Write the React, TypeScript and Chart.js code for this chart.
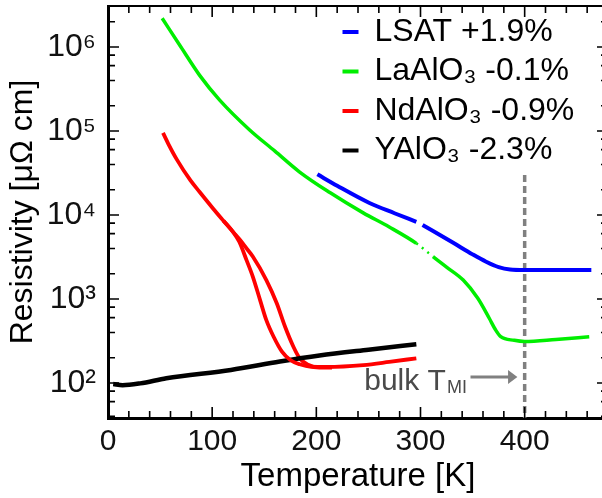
import React, { useEffect, useRef } from 'react';
import { Chart, registerables } from 'chart.js';

Chart.register(...registerables);

// ---- data (Temperature [K], Resistivity [µΩ cm]) ----
const lsatT = [201, 220, 251, 275, 296, 299, 302, 331, 350, 363, 375, 386, 400, 464];
const lsatR = [3.05e4, 2.23e4, 1.39e4, 1.05e4, 8.3e3, null, 7.6e3, 4.7e3, 3.4e3, 2.78e3, 2.4e3, 2.25e3, 2.22e3, 2.22e3];

const laoT = [52, 70, 88, 107, 136, 160, 184, 213, 245, 270, 296, 304, 312, 325, 341, 355, 366, 372, 377, 390, 400, 430, 462];
const laoR = [2.2e6, 1.0e6, 4.6e5, 2.35e5, 1.03e5, 5.8e4, 3.25e4, 1.85e4, 1.06e4, 7.2e3, 4.6e3, 3.85e3, 3.2e3, 2.4e3, 1.68e3, 1.02e3, 590, 430, 356, 322, 312, 330, 355];

const ndoCoolT = [52.8, 58, 66, 79, 88, 101, 111, 120, 126, 133, 139, 146, 152, 159, 167, 175, 184, 195, 210, 245, 270, 296];
const ndoCoolR = [9.5e4, 7.0e4, 4.6e4, 2.6e4, 1.88e4, 1.19e4, 8.5e3, 6.3e3, 4.8e3, 2.9e3, 1.85e3, 970, 560, 355, 236, 188, 167, 156, 155, 163, 178, 197];

const ndoWarmT = [111, 120, 127, 133, 139, 152, 162, 170, 178, 184, 192, 203, 215];
const ndoWarmR = [8.5e3, 6.3e3, 5.0e3, 4.0e3, 3.2e3, 1.68e3, 890, 467, 270, 197, 165, 152, 153];

const yaoT = [5, 14, 31, 56, 118, 165, 203, 250, 296];
const yaoR = [97, 94, 99, 114, 143, 180, 212, 249, 289];

const tmiT = [400, 400];
const tmiR = [3.0e4, 38.3];

const xTicks = [0, 100, 200, 300, 400];
const yTicks = [1e2, 1e3, 1e4, 1e5, 1e6];
const xMinorStep = 20;
const yMinorMultipliers = [2, 4, 6, 8];

const labels = ['LSAT +1.9%', 'LaAlO\u2083 -0.1%', 'NdAlO\u2083 -0.9%', 'YAlO\u2083 -2.3%'];

const FONT = "'Liberation Sans', Arial, Helvetica, sans-serif";
const BLUE = '#0000ff';
const GREEN = '#00ee00';
const RED = '#ff0000';
const BLACK = '#000000';
const GREY = '#808080';

const SUP: Record<string, string> = {
  '0': '\u2070', '1': '\u00b9', '2': '\u00b2', '3': '\u00b3', '4': '\u2074',
  '5': '\u2075', '6': '\u2076', '7': '\u2077', '8': '\u2078', '9': '\u2079',
};

const toXY = (t: number[], r: (number | null)[]) => t.map((x, i) => ({ x, y: r[i] }));

const innerTicks = {
  id: 'innerTicks',
  afterDatasetsDraw(chart: any) {
    const { ctx, chartArea: a, scales } = chart;
    const x = scales.x;
    const y = scales.y;
    ctx.save();
    ctx.strokeStyle = '#000';
    ctx.lineWidth = 1.6;
    ctx.beginPath();
    for (let t = x.min; t <= x.max + 1e-6; t += xMinorStep) {
      const px = x.getPixelForValue(t);
      const len = t % 100 === 0 ? 11 : 7;
      ctx.moveTo(px, a.bottom);
      ctx.lineTo(px, a.bottom - len);
      ctx.moveTo(px, a.top);
      ctx.lineTo(px, a.top + len);
    }
    for (let d = 0; d <= 7; d++) {
      const base = Math.pow(10, d);
      const vals = [{ v: base, len: 11 }].concat(yMinorMultipliers.map((k) => ({ v: k * base, len: 7 })));
      for (const { v, len } of vals) {
        if (v < y.min || v > y.max) continue;
        const py = y.getPixelForValue(v);
        ctx.moveTo(a.left, py);
        ctx.lineTo(a.left + len, py);
        ctx.moveTo(a.right, py);
        ctx.lineTo(a.right - len, py);
      }
    }
    ctx.stroke();
    ctx.lineWidth = 2.2;
    ctx.beginPath();
    ctx.moveTo(a.left, a.top);
    ctx.lineTo(a.right, a.top);
    ctx.lineTo(a.right, a.bottom);
    ctx.stroke();
    ctx.restore();
  },
  afterDraw(chart: any) {
    const { ctx, scales } = chart;
    const x = scales.x;
    const y = scales.y;
    ctx.save();
    // "bulk T_MI" label
    const tx = x.getPixelForValue(246);
    const ty = y.getPixelForValue(82.6);
    ctx.fillStyle = '#4a4a4a';
    ctx.textBaseline = 'alphabetic';
    ctx.textAlign = 'left';
    ctx.font = `30px ${FONT}`;
    ctx.fillText('bulk T', tx, ty);
    const w = ctx.measureText('bulk T').width;
    ctx.font = `18px ${FONT}`;
    ctx.fillText('MI', tx + w + 1, ty + 3.5);
    // arrow
    const ay = y.getPixelForValue(118);
    const ax0 = x.getPixelForValue(348);
    const ax1 = x.getPixelForValue(385);
    const tip = x.getPixelForValue(393);
    ctx.strokeStyle = GREY;
    ctx.fillStyle = GREY;
    ctx.lineWidth = 3;
    ctx.beginPath();
    ctx.moveTo(ax0, ay);
    ctx.lineTo(ax1, ay);
    ctx.stroke();
    ctx.beginPath();
    ctx.moveTo(tip, ay);
    ctx.lineTo(ax1 - 1, ay - 7);
    ctx.lineTo(ax1 - 1, ay + 7);
    ctx.closePath();
    ctx.fill();
    ctx.restore();
  },
};

const moveLegend = {
  id: 'moveLegend',
  beforeDraw(chart: any) {
    const lg = chart.legend;
    if (!lg) return;
    const a = chart.chartArea;
    const dx = a.left + 227 - lg.left;
    const dy = 8.5 - lg.top;
    lg.left += dx;
    lg.right += dx;
    lg.top += dy;
    lg.bottom += dy;
  },
};

const noPadX = (s: any) => {
  s.height = 80;
  s.paddingLeft = 0;
  s.paddingRight = 0;
  s.paddingTop = 0;
  s.paddingBottom = 0;
};
const noPadY = (s: any) => {
  s.width = 108;
  s.paddingLeft = 0;
  s.paddingRight = 0;
  s.paddingTop = 0;
  s.paddingBottom = 0;
};

export default function App() {
  const ref = useRef<HTMLCanvasElement>(null);

  useEffect(() => {
    const line = { pointRadius: 0, pointHoverRadius: 0, cubicInterpolationMode: 'monotone' as const, fill: false };
    const chart = new Chart(ref.current as HTMLCanvasElement, {
      type: 'line',
      data: {
        datasets: [
          { ...line, label: labels[0], data: toXY(lsatT, lsatR), borderColor: BLUE, backgroundColor: BLUE, borderWidth: 4, spanGaps: false },
          {
            ...line, label: labels[1], data: toXY(laoT, laoR), borderColor: GREEN, backgroundColor: GREEN, borderWidth: 3.5,
            segment: {
              borderDash: (c: any) => (c.p0.parsed.x >= 295 && c.p1.parsed.x <= 313 ? [2, 5] : undefined),
              borderWidth: (c: any) => (c.p0.parsed.x >= 295 && c.p1.parsed.x <= 313 ? 2.5 : undefined),
            },
          },
          { ...line, label: labels[2], data: toXY(ndoCoolT, ndoCoolR), borderColor: RED, backgroundColor: RED, borderWidth: 3.8 },
          { ...line, label: labels[3], data: toXY(yaoT, yaoR), borderColor: BLACK, backgroundColor: BLACK, borderWidth: 4.5 },
          { ...line, label: labels[2] + ' (warming)', data: toXY(ndoWarmT, ndoWarmR), borderColor: RED, backgroundColor: RED, borderWidth: 3.8 },
          { ...line, label: 'bulk TMI', data: toXY(tmiT, tmiR), borderColor: GREY, backgroundColor: GREY, borderWidth: 3.5, borderDash: [7, 4], tension: 0, cubicInterpolationMode: 'default' as const },
        ],
      },
      options: {
        responsive: false,
        devicePixelRatio: 1,
        animation: false,
        events: [],
        layout: { autoPadding: false, padding: { left: 0, top: 6, right: 8, bottom: 0 } },
        scales: {
          x: {
            type: 'linear',
            min: 0,
            max: 480,
            afterFit: noPadX,
            afterBuildTicks: (s: any) => { s.ticks = xTicks.map((v) => ({ value: v })); },
            grid: { display: false, drawTicks: false, tickLength: 0 },
            border: { display: true, color: '#000', width: 3 },
            ticks: { autoSkip: false, maxRotation: 0, padding: 6, color: '#111', font: { family: FONT, size: 30 } },
            title: { display: true, text: 'Temperature [K]', color: '#000', font: { family: FONT, size: 33 }, padding: { top: 0, bottom: 1 } },
          },
          y: {
            type: 'logarithmic',
            min: 38.3,
            max: 3.08e6,
            afterFit: noPadY,
            afterBuildTicks: (s: any) => { s.ticks = yTicks.map((v) => ({ value: v })); },
            grid: { display: false, drawTicks: false, tickLength: 0 },
            border: { display: true, color: '#000', width: 3 },
            ticks: {
              autoSkip: false,
              padding: 12,
              color: '#111',
              font: { family: FONT, size: 32 },
              callback: (v: any) => {
                const e = String(Math.round(Math.log10(Number(v))));
                return '10' + e.split('').map((c) => SUP[c]).join('');
              },
            },
            title: { display: true, text: 'Resistivity [\u03bc\u03a9 cm]', color: '#000', font: { family: FONT, size: 32 }, padding: { top: 4, bottom: 0 } },
          },
        },
        plugins: {
          tooltip: { enabled: false },
          title: { display: false },
          legend: {
            display: true,
            position: 'chartArea',
            align: 'start',
            labels: {
              boxWidth: 16,
              boxHeight: 4,
              padding: 7.5,
              color: '#000',
              font: { family: FONT, size: 32 },
              filter: (item: any) => item.datasetIndex < 4,
              generateLabels: (c: any) =>
                Chart.defaults.plugins.legend.labels.generateLabels(c).map((l: any) => ({ ...l, lineWidth: 0 })),
            },
          },
        },
      },
      plugins: [innerTicks, moveLegend],
    } as any);
    return () => chart.destroy();
  }, []);

  return (
    <div style={{ position: 'fixed', left: 0, top: 0, width: 602, height: 498, overflow: 'hidden', background: '#fff' }}>
      <canvas ref={ref} width={616} height={498} style={{ display: 'block', width: 616, height: 498 }} />
    </div>
  );
}
